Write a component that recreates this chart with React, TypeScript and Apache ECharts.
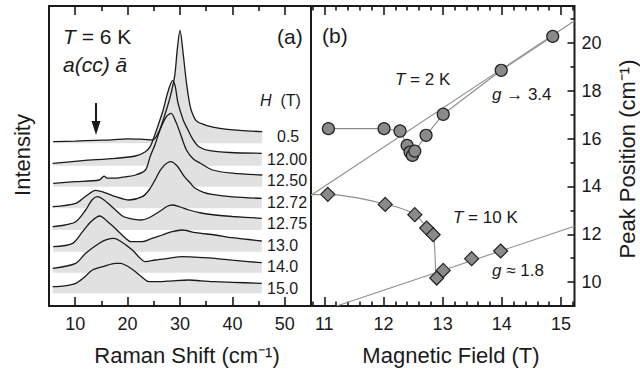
import React, { useEffect, useRef } from "react";
import * as echarts from "echarts";

// ---------- panel (a): Raman spectra ----------
const ramanMajor = [10, 20, 30, 40, 50];
const ramanMinor = [15, 25, 35, 45];
const fieldLabels = ["0.5", "12.00", "12.50", "12.72", "12.75", "13.0", "14.0", "15.0"];
const spectrumOffsets = [162.7, 140.3, 119.3, 97.7, 76, 54.3, 33.3, 12.7];

const spec05 = [[5.8,1.6],[10,2.2],[14,3],[17,3.5],[20,4.5],[23,4],[24.8,3.5],[26,12],[27.2,30],[28.2,48],[29,68],[29.5,95],[30,113],[30.6,90],[31.2,62],[31.9,38],[32.5,28],[33.2,22],[35,18],[37.6,15],[41.4,13],[45.7,11.6]];
const spec1200 = [[5.7,2.4],[11.4,5],[17.7,7.4],[21.5,9.7],[23.4,14],[24.3,19],[25,28],[25.8,40],[26.8,56],[27.7,74],[28.6,85],[29.1,79],[29.6,63],[30.6,46],[31.5,36],[32.5,26],[33.6,19],[35.7,15],[39.5,13.2],[45.6,12.4]];
const spec1250 = [[5.8,3.4],[10,5],[14.6,6.7],[15.5,10.5],[16.2,8.5],[17.1,8.5],[19,9.5],[21.5,11.7],[23.4,16.7],[24.3,30],[25.3,43],[26.2,57],[27.4,70],[28.3,73.4],[29.2,65],[30,54],[31.2,37],[32.5,28],[33.8,23.7],[36.2,16.7],[40,13.5],[45.7,11.7]];
const spec1272 = [[5.7,1.6],[10.1,5],[12,12],[13.9,18],[15.5,16],[17.7,11.6],[20.3,8.3],[22.8,11.6],[24.1,18.3],[25.2,28],[26.5,40],[28.2,46.6],[29.5,42],[30.8,32],[32,25],[32.9,20],[34.5,16],[36.1,14],[40,11.5],[45.6,10]];
const spec1275 = [[5.7,3.3],[8,5],[10.1,8.3],[12,20],[13.2,30],[14.2,33.3],[15.5,30],[17.7,20],[19,14],[20.3,11.7],[22.5,10],[24,12],[26,18.3],[27.5,23.5],[28.5,25],[30,23],[31.7,20],[34,17],[36.7,15],[40,13.5],[45.6,11.7]];
const spec1300 = [[5.8,5],[9.5,8.4],[11.4,20],[13,30],[14.7,35.7],[16,31],[17.7,23],[19.5,14],[20.6,10],[22.8,10],[24.5,13],[26.6,16.7],[28.5,20],[30.4,21.7],[33,19],[36.7,16.7],[40,14],[45.6,10.7]];
const spec1400 = [[5.7,4.4],[10.1,9.4],[12,19.4],[14.6,29.4],[16,33],[17.3,34.4],[18.5,32],[20.9,22.7],[22.3,15],[23.4,11],[25.3,12.7],[28,14.5],[30.4,16],[33,15.5],[36.7,14.4],[40,12.5],[45.6,10]];
const spec1500 = [[5.7,6.6],[8,7.5],[10.1,10],[11.5,15],[13.3,23.3],[15.5,27],[17.7,30],[18.7,30],[20,27],[21.5,21.6],[23,15],[24.1,11.6],[26,11.6],[28.5,12.5],[31.7,13.3],[34,12.5],[36.7,11.6],[40,11],[45.6,10]];
const spectra = [spec05, spec1200, spec1250, spec1272, spec1275, spec1300, spec1400, spec1500];

// ---------- panel (b): peak position vs field ----------
const fieldMajor = [11, 12, 13, 14, 15];
const fieldMinor = [10.8, 11.2, 11.4, 11.6, 11.8, 12.2, 12.4, 12.6, 12.8, 13.2, 13.4, 13.6, 13.8, 14.2, 14.4, 14.6, 14.8, 15.2];
const peakMajor = [10, 12, 14, 16, 18, 20];
const peakMinor = [9, 11, 13, 15, 17, 19, 21];

const circles2K = [[11.07,16.42],[12.01,16.42],[12.28,16.32],[12.40,15.72],[12.45,15.44],[12.49,15.30],[12.53,15.48],[12.72,16.14],[13.01,17.02],[13.99,18.86],[14.86,20.28]];
const diamonds10K = [[11.06,13.67],[12.03,13.25],[12.53,12.82],[12.73,12.26],[12.84,11.98],[12.90,10.17],[13.01,10.49],[13.49,10.98],[13.98,11.30]];
const guide10K = [[10.776,13.66],[11.06,13.67],[12.03,13.27],[12.53,12.84],[12.73,12.28],[12.84,11.98],[12.87,11.2],[12.88,10.38]];
const fitHigh = [[10.776,13.63],[15.228,20.93]];
const fitLow = [[11.21,9.0],[15.228,12.34]];

const FONT = "Liberation Sans";
const INK = "#1a1a1a";

function tickAxis(grid: number, pos: string, min: number, max: number, ticks: number[], len: number, labels: boolean, isY = false) {
  return {
    type: "value",
    gridIndex: grid,
    position: pos,
    min,
    max,
    axisLine: { show: false },
    splitLine: { show: false },
    axisTick: { show: true, inside: true, length: len, customValues: ticks, lineStyle: { color: INK, width: 1.6 } },
    axisLabel: labels
      ? { show: true, customValues: ticks, color: INK, fontFamily: FONT, fontSize: 18, margin: isY ? 7 : 9 }
      : { show: false },
  };
}

function txt(x: number, y: number, text: string, size: number, extra: any = {}) {
  return {
    type: "text",
    x,
    y,
    rotation: extra.rotation || 0,
    style: {
      text,
      fontFamily: FONT,
      fontSize: size,
      fontStyle: extra.italic ? "italic" : "normal",
      fill: INK,
      align: extra.align || "left",
      verticalAlign: "middle",
      rich: {
        i: { fontFamily: FONT, fontSize: size, fontStyle: "italic", fill: INK },
        n: { fontFamily: FONT, fontSize: size, fill: INK },
      },
    },
  };
}

export default function App() {
  const ref = useRef<HTMLDivElement>(null);
  useEffect(() => {
    if (!ref.current) return;
    const chart = echarts.init(ref.current, undefined, { renderer: "svg" });

    const spectrumSeries = spectra.map((s, i) => ({
      type: "line",
      name: fieldLabels[i],
      xAxisIndex: 0,
      yAxisIndex: 0,
      data: s.map(([x, h]) => [x, spectrumOffsets[i] + h]),
      smooth: 0.3,
      symbol: "none",
      lineStyle: { color: INK, width: 1.3 },
      areaStyle: { color: "#e1e1e1", opacity: 1, origin: spectrumOffsets[i] },
      silent: true,
    }));

    const gray = "#8e8e8e";
    const option: any = {
      animation: false,
      backgroundColor: "#ffffff",
      grid: [
        { left: 49, top: 6, width: 262, height: 300, show: true, borderColor: INK, borderWidth: 2, backgroundColor: "transparent" },
        { left: 311, top: 6, width: 263.5, height: 300, show: true, borderColor: INK, borderWidth: 2, backgroundColor: "transparent" },
      ],
      xAxis: [
        tickAxis(0, "bottom", 5, 55, ramanMajor, 9, true),
        tickAxis(0, "bottom", 5, 55, ramanMinor, 5, false),
        tickAxis(0, "top", 5, 55, ramanMajor, 9, false),
        tickAxis(0, "top", 5, 55, ramanMinor, 5, false),
        tickAxis(1, "bottom", 10.776, 15.228, fieldMajor, 9, true),
        tickAxis(1, "bottom", 10.776, 15.228, fieldMinor, 4.5, false),
        tickAxis(1, "top", 10.776, 15.228, fieldMajor, 9, false),
        tickAxis(1, "top", 10.776, 15.228, fieldMinor, 4.5, false),
      ],
      yAxis: [
        { type: "value", gridIndex: 0, min: 0, max: 300, show: false },
        tickAxis(1, "right", 9, 21.55, peakMajor, 7, true, true),
        tickAxis(1, "right", 9, 21.55, peakMinor, 4, false, true),
      ],
      series: [
        ...spectrumSeries,
        { type: "line", xAxisIndex: 4, yAxisIndex: 1, data: fitHigh, symbol: "none", lineStyle: { color: gray, width: 1.1 }, z: 3 },
        { type: "line", xAxisIndex: 4, yAxisIndex: 1, data: fitLow, symbol: "none", lineStyle: { color: gray, width: 1.1 }, z: 3 },
        { type: "line", xAxisIndex: 4, yAxisIndex: 1, data: guide10K, smooth: 0.3, symbol: "none", lineStyle: { color: gray, width: 1.1 }, z: 3 },
        {
          type: "line", xAxisIndex: 4, yAxisIndex: 1, data: circles2K, symbol: "circle", symbolSize: 12,
          showSymbol: true, lineStyle: { color: gray, width: 1.1 },
          itemStyle: { color: "#8a8a8a", borderColor: "#222", borderWidth: 1.2 }, z: 4,
        },
        {
          type: "scatter", xAxisIndex: 4, yAxisIndex: 1, data: diamonds10K, symbol: "diamond", symbolSize: 14,
          itemStyle: { color: "#8a8a8a", borderColor: "#222", borderWidth: 1.2, opacity: 1 }, z: 5,
        },
      ],
      graphic: [
        txt(63, 36, "{i|T} = 6 K", 21),
        txt(63, 64, "a(cc) \u0101", 21, { italic: true }),
        txt(277, 36.5, "(a)", 21),
        txt(260, 100, "{i|H}  (T)", 16),
        ...fieldLabels.map((l, i) => txt(i === 0 ? 277 : 267, [136.7, 159.3, 180, 202.7, 223.3, 245, 266.7, 288.3][i], l, 16)),
        { type: "line", shape: { x1: 96, y1: 103, x2: 96, y2: 124 }, style: { stroke: INK, lineWidth: 2 } },
        { type: "polygon", shape: { points: [[91.5, 121], [100.5, 121], [96, 135]] }, style: { fill: INK } },
        txt(322, 35.5, "(b)", 21),
        txt(395, 79.5, "{i|T} = 2 K", 17),
        txt(492, 94, "{i|g} \u2192 3.4", 17),
        txt(453, 217, "{i|T} = 10 K", 17),
        txt(492, 270, "{i|g} \u2248 1.8", 17),
        txt(187, 355, "Raman Shift (cm\u207B\u00B9)", 22, { align: "center" }),
        txt(451, 355, "Magnetic Field (T)", 22, { align: "center" }),
        txt(22, 155, "Intensity", 22, { align: "center", rotation: Math.PI / 2 }),
        txt(627, 159, "Peak Position (cm\u207B\u00B9)", 22, { align: "center", rotation: Math.PI / 2 }),
      ],
    };
    chart.setOption(option);
    return () => chart.dispose();
  }, []);
  return (
    <div
      ref={ref}
      style={{ position: "fixed", left: 0, top: 0, width: 640, height: 374, background: "#fff" }}
    />
  );
}
